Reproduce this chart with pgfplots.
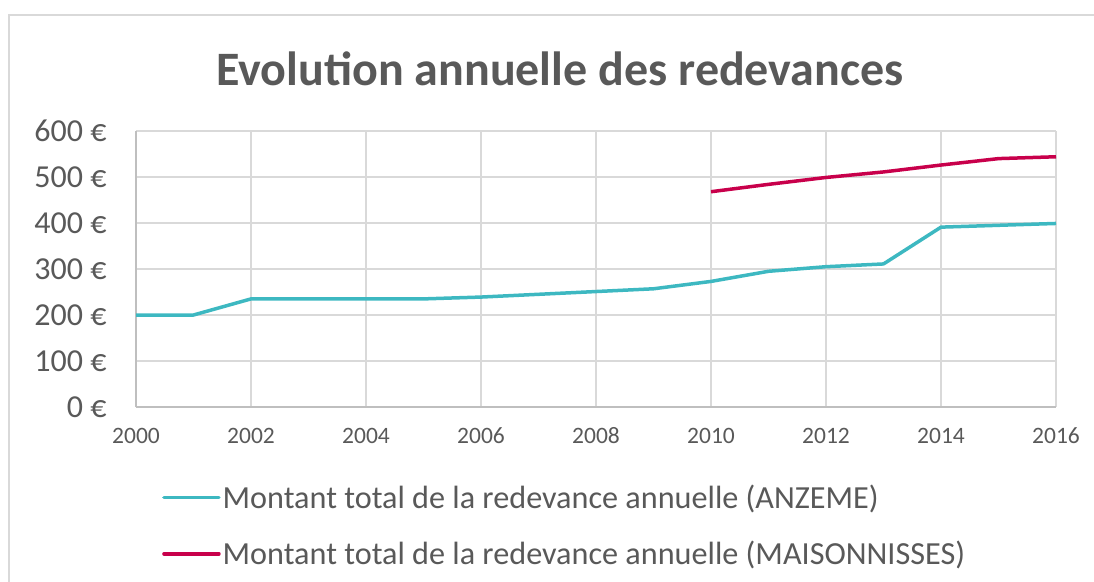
\documentclass[border=0pt]{standalone}
\usepackage{fontspec}
\setmainfont{Carlito}
\usepackage{pgfplots}
\pgfplotsset{compat=1.18}
\definecolor{cyanl}{HTML}{3DB8C1}
\definecolor{redl}{HTML}{C8004B}
\definecolor{txt}{HTML}{595959}
\definecolor{gridc}{HTML}{D9D9D9}
\definecolor{axc}{HTML}{BFBFBF}
\begin{document}
\begin{tikzpicture}
\useasboundingbox (0pt,0pt) rectangle (1094pt,581pt);
\clip (0pt,0pt) rectangle (1094pt,581pt);
\draw[gridc, line width=1.5pt] (9pt,-20pt) rectangle (1120pt,566pt);
\node[anchor=base, font=\fontsize{48}{56}\selectfont\bfseries, text=txt, inner sep=0pt] at (560pt,495pt) {Evolution annuelle des redevances};
\begin{axis}[
  at={(136pt,174pt)}, anchor=south west,
  scale only axis, width=920pt, height=276pt,
  xmin=2000, xmax=2016, ymin=0, ymax=600,
  xtick={2000,2002,...,2016},
  xticklabels={2000,2002,2004,2006,2008,2010,2012,2014,2016},
  ytick={0,100,...,600},
  yticklabels={0 €,100 €,200 €,300 €,400 €,500 €,600 €},
  major tick length=0pt,
  grid=major,
  major grid style={gridc, line width=1.5pt},
  axis x line=bottom, axis y line=left,
  axis line style={-, axc, line width=1.5pt},
  x axis line style={-}, y axis line style={-},
  xticklabel style={font=\fontsize{23.5}{28}\selectfont, text=txt, text height=15pt, text depth=0pt, yshift=-18pt},
  yticklabel style={font=\fontsize{32}{38}\selectfont, text=txt, xshift=-26pt},
  legend cell align=left,
  legend style={at={(axis description cs:0,0)}, anchor=north west, xshift=26pt, yshift=-76pt,
    draw=none, fill=none,
    font=\fontsize{32.2}{38}\selectfont, text=txt, row sep=27pt,
    inner sep=0pt, nodes={inner sep=2pt}},
  legend image code/.code={\draw[#1, line width=3.5pt, line cap=round] (0pt,0pt) -- (55pt,0pt);},
  clip=false,
]
\addplot[cyanl, line width=3.5pt, line join=round] coordinates {
 (2000,200) (2001,200) (2002,235) (2003,235) (2004,235) (2005,235)
 (2006,239) (2007,245) (2008,251) (2009,257) (2010,273) (2011,295)
 (2012,305) (2013,311) (2014,391) (2015,395) (2016,399)};
\addlegendentry{Montant total de la redevance annuelle (ANZEME)}
\addplot[redl, line width=3.5pt, line join=round] coordinates {
 (2010,468) (2011,484) (2012,499) (2013,511) (2014,526) (2015,540) (2016,544)};
\addlegendentry{Montant total de la redevance annuelle (MAISONNISSES)}
\end{axis}
\end{tikzpicture}
\end{document}
